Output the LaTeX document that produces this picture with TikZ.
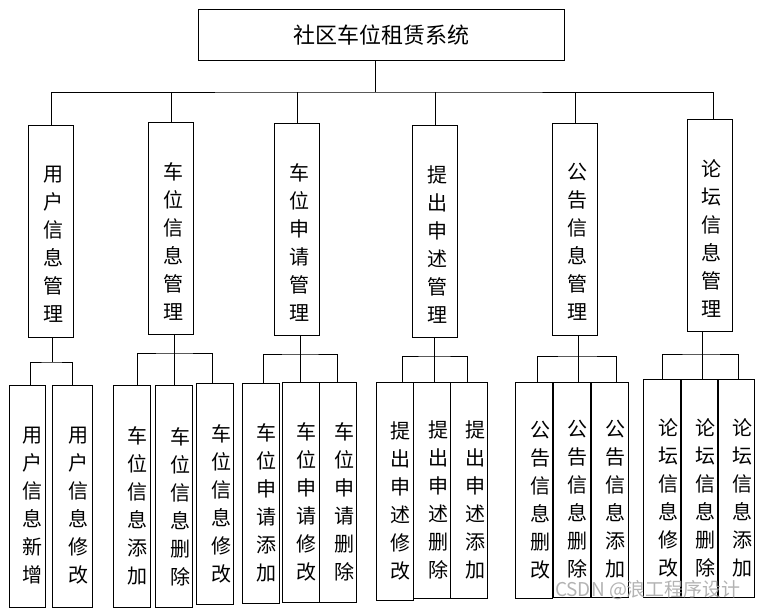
\documentclass[tikz,border=0pt]{standalone}
\usepackage{fontspec}
\newfontfamily\cjk{Noto Sans CJK SC}
\usepackage{tikz}
\usetikzlibrary{positioning}

\begin{document}
\begin{tikzpicture}[x=1pt,y=-1pt,line width=1pt,font=\cjk]
		\tikzstyle{mod}=[draw=black,inner sep=0pt,minimum width=45pt,minimum height=212pt]
		\tikzstyle{leaf}=[draw=black,inner sep=0pt,minimum width=37pt,minimum height=218pt]
		\tikzstyle{vt}=[align=center,font=\cjk\fontsize{20}{28}\selectfont]
		\useasboundingbox (0,0) rectangle (760,610);
		% top
		\node[draw=black,minimum width=366pt,minimum height=51pt,font=\cjk\fontsize{22}{22}\selectfont] (root) at (381,35.5) {社区车位租赁系统};
		% modules
		\node[mod,label={[vt,xshift=2pt,yshift=-13pt]center:用\\户\\信\\息\\管\\理}] (m1) at (51,231) {};
		\node[mod,label={[vt,xshift=2pt,yshift=-13pt]center:车\\位\\信\\息\\管\\理}] (m2) at (171,228.5) {};
		\node[mod,label={[vt,xshift=2pt,yshift=-13pt]center:车\\位\\申\\请\\管\\理}] (m3) at (297,229.5) {};
		\node[mod,label={[vt,xshift=2pt,yshift=-13pt]center:提\\出\\申\\述\\管\\理}] (m4) at (435,231.5) {};
		\node[mod,label={[vt,xshift=2pt,yshift=-13pt]center:公\\告\\信\\息\\管\\理}] (m5) at (575,229) {};
		\node[mod,label={[vt,xshift=2pt,yshift=-13pt]center:论\\坛\\信\\息\\管\\理}] (m6) at (709.5,225.5) {};
		% leaves
		\node[leaf,minimum width=36pt,minimum height=222pt,label={[vt,xshift=6pt,yshift=-10pt]center:用\\户\\信\\息\\新\\增}] (s11) at (27,496) {};
		\node[leaf,minimum width=40pt,minimum height=222pt,label={[vt,xshift=6pt,yshift=-10pt]center:用\\户\\信\\息\\修\\改}] (s12) at (72,496) {};
		\node[leaf,minimum height=222pt,label={[vt,xshift=6pt,yshift=-10pt]center:车\\位\\信\\息\\添\\加}] (s21) at (131.5,496) {};
		\node[leaf,minimum height=222pt,label={[vt,xshift=6pt,yshift=-10pt]center:车\\位\\信\\息\\删\\除}] (s22) at (174,496.5) {};
		\node[leaf,minimum height=221pt,label={[vt,xshift=6pt,yshift=-10pt]center:车\\位\\信\\息\\修\\改}] (s23) at (215,493.5) {};
		\node[leaf,minimum height=220pt,label={[vt,xshift=6pt,yshift=-10pt]center:车\\位\\申\\请\\添\\加}] (s31) at (260.5,493) {};
		\node[leaf,minimum height=220pt,label={[vt,xshift=6pt,yshift=-10pt]center:车\\位\\申\\请\\修\\改}] (s32) at (300.5,492) {};
		\node[leaf,minimum height=220pt,label={[vt,xshift=6pt,yshift=-10pt]center:车\\位\\申\\请\\删\\除}] (s33) at (338,492) {};
		\node[leaf,label={[vt,xshift=6pt,yshift=-10pt]center:提\\出\\申\\述\\修\\改}] (s41) at (394.5,491) {};
		\node[leaf,minimum height=216pt,label={[vt,xshift=6pt,yshift=-10pt]center:提\\出\\申\\述\\删\\除}] (s42) at (432,490) {};
		\node[leaf,minimum height=216pt,label={[vt,xshift=6pt,yshift=-10pt]center:提\\出\\申\\述\\添\\加}] (s43) at (469,490) {};
		\node[leaf,minimum height=216pt,label={[vt,xshift=6pt,yshift=-10pt]center:公\\告\\信\\息\\删\\改}] (s51) at (534,490) {};
		\node[leaf,minimum height=215pt,label={[vt,xshift=6pt,yshift=-10pt]center:公\\告\\信\\息\\删\\除}] (s52) at (571.5,489.5) {};
		\node[leaf,minimum height=215pt,label={[vt,xshift=6pt,yshift=-10pt]center:公\\告\\信\\息\\添\\加}] (s53) at (609.5,489.5) {};
		\node[leaf,label={[vt,xshift=6pt,yshift=-10pt]center:论\\坛\\信\\息\\修\\改}] (s61) at (662,488) {};
		\node[leaf,label={[vt,xshift=6pt,yshift=-10pt]center:论\\坛\\信\\息\\删\\除}] (s62) at (699.5,488) {};
		\node[leaf,label={[vt,xshift=6pt,yshift=-10pt]center:论\\坛\\信\\息\\添\\加}] (s63) at (736,488) {};
		% junctions
		\coordinate (bus) at (375,92);
		\coordinate (j1) at (52,362);
		\coordinate (j2) at (174,353);
		\coordinate (j3) at (300,354);
		\coordinate (j4) at (434,356);
		\coordinate (j5) at (578,356);
		\coordinate (j6) at (702,354);
		% lines
		\draw (root.south -| bus) -- (bus);
		\draw (m1.north) |- (bus) -| ([xshift=4pt]m6.north);
		\foreach \m in {m2,m3,m4,m5}
			\draw (\m.north) -- (\m.north |- bus);
		\draw ([xshift=3pt]s11.north) |- (j1) -| (s12.north);
		\draw (j1 |- m1.south) -- (j1);
		\draw ([xshift=5.5pt]s21.north) |- (j2) -| ([xshift=-3pt]s23.north);
		\draw (j2 |- m2.south) -- (j2 |- s22.north);
		\draw ([xshift=2.5pt]s31.north) |- (j3) -| ([xshift=-1pt]s33.north);
		\draw (j3 |- m3.south) -- (j3 |- s32.north);
		\draw ([xshift=7.5pt]s41.north) |- (j4) -| ([xshift=-2pt]s43.north);
		\draw (j4 |- m4.south) -- (j4 |- s42.north);
		\draw ([xshift=3pt]s51.north) |- (j5) -| ([xshift=6.5pt]s53.north);
		\draw (j5 |- m5.south) -- (j5 |- s52.north);
		\draw (s61.north) |- (j6) -| ([xshift=2pt]s63.north);
		\draw (j6 |- m6.south) -- (j6 |- s62.north);
		% watermark
		\node[font=\cjk\fontsize{19}{19}\selectfont,text=black!35,opacity=0.85] (wm) at (648,590) {CSDN @浪工程序设计};
	\end{tikzpicture}
\end{document}
